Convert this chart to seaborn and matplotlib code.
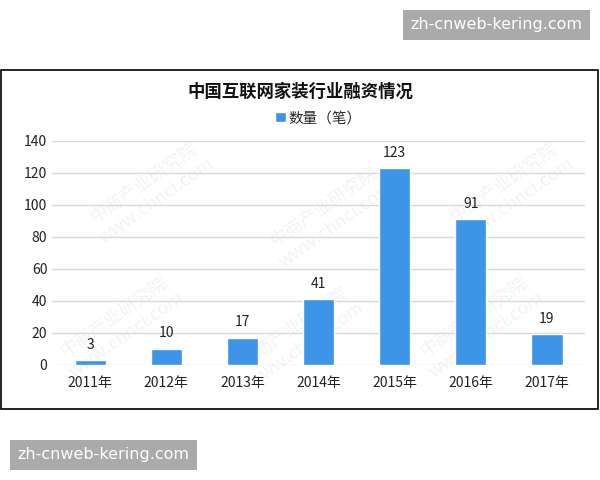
import matplotlib.pyplot as plt
import matplotlib.patches as mpatches
import seaborn as sns
import pandas as pd

years = ["2011年", "2012年", "2013年", "2014年", "2015年", "2016年", "2017年"]
counts = [3, 10, 17, 41, 123, 91, 19]
yticks = [0, 20, 40, 60, 80, 100, 120, 140]

sns.set_theme(style="white")
plt.rcParams['font.family'] = ['Noto Sans CJK SC', 'DejaVu Sans']

df = pd.DataFrame({"年份": years, "数量（笔）": counts})

fig = plt.figure(figsize=(6, 4.8), dpi=100)
ax = fig.add_axes([0.087, 0.24, 0.888, 0.4667])
ax.set_zorder(2)

# faint background watermark
for x, y in [(0.25, 0.60), (0.55, 0.55), (0.85, 0.60), (0.20, 0.32), (0.50, 0.30), (0.80, 0.32)]:
    fig.text(x, y, "中商产业研究院\nwww.chnci.com", rotation=35, color="#f3f3f3",
             fontsize=13, ha="center", va="center", zorder=-5)

sns.barplot(data=df, x="年份", y="数量（笔）", color="#3c95e6", width=0.41,
            saturation=1, ax=ax, zorder=3, label="数量（笔）")
ax.set_ylim(0, 140)
ax.set_yticks(yticks)
ax.yaxis.grid(True, color="#d9d9d9", linewidth=1)
ax.set_axisbelow(True)
sns.despine(ax=ax, left=True, bottom=True)
ax.set_xlabel("")
ax.set_ylabel("")
ax.tick_params(axis="both", labelsize=10, colors="#222222", length=0)
ax.tick_params(axis="x", pad=8)
ax.set_facecolor("none")

for container in ax.containers:
    ax.bar_label(container, padding=6, fontsize=10, color="#222222")

ax.legend(loc="lower center", bbox_to_anchor=(0.5, 1.01), frameon=False,
          fontsize=10.5, handlelength=0.7, handleheight=0.7, handletextpad=0.2)

fig.text(0.5, 0.808, "中国互联网家装行业融资情况", ha="center", va="center",
         fontsize=12.5, fontweight="bold", color="#111111")

# chart border
fig.patches.append(mpatches.Rectangle((0.002, 0.148), 0.994, 0.706, transform=fig.transFigure,
                                      fill=False, edgecolor="black", linewidth=1.2))

# site stamps
for x0, y0 in [(403, 10), (10, 440)]:
    fig.patches.append(mpatches.Rectangle((x0 / 600, 1 - (y0 + 30) / 480), 187 / 600, 30 / 480,
                                          transform=fig.transFigure, facecolor="#aaaaaa",
                                          edgecolor="none"))
    fig.text((x0 + 93.5) / 600, 1 - (y0 + 15) / 480, "zh-cnweb-kering.com", ha="center",
             va="center", fontsize=11.5, color="white", family="DejaVu Sans")

fig.savefig("out.png", dpi=100)
